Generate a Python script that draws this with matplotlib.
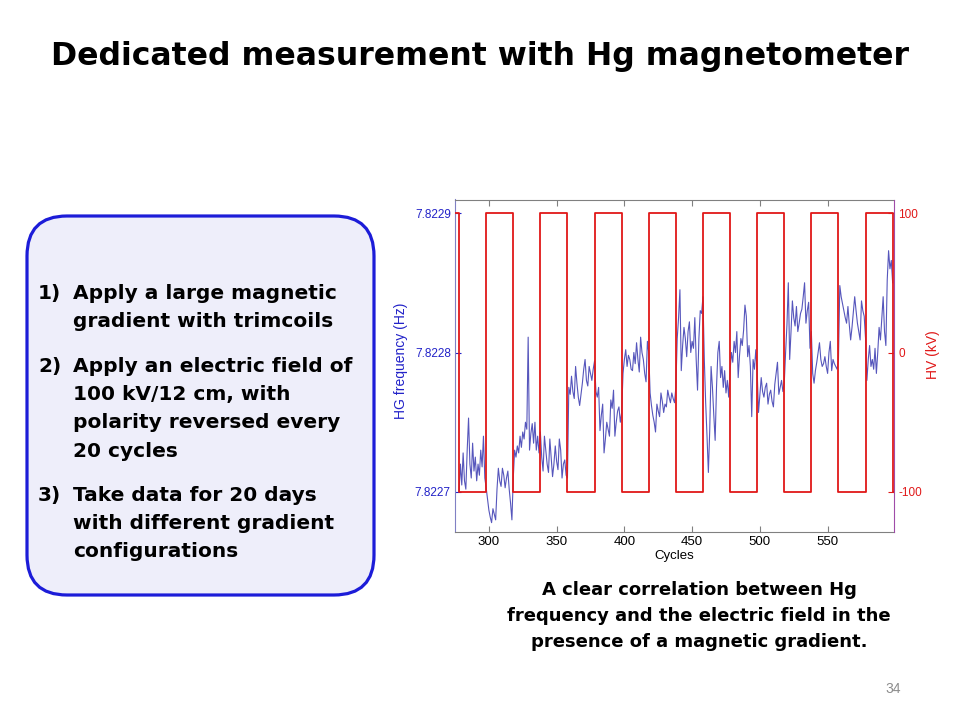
import numpy as np
import matplotlib.pyplot as plt
from matplotlib.patches import FancyBboxPatch

plt.rcParams["font.family"] = ["Liberation Sans", "DejaVu Sans"]
plt.rcParams["axes.unicode_minus"] = False

# Hg frequency, one reading per cycle, as offset from 7.8227 Hz in micro-Hz
hg_base_hz = 7.8227
first_cycle = 278
hg_offset_uhz = [
    0, 20, 5, 28, 8, 2, 30, 53, 20, 10, 35, 15, 25, 8, 20, 12, 30, 18, 40, 10, 3,
    -5, -13, -18, -22, -12, -16, -20, 2, 17, 8, 4, 17, 12, 3, 10, 15, 2, -8, -20, 10,
    30, 25, 33, 28, 40, 32, 43, 38, 50, 45, 111, 30, 42, 49, 35, 50, 30, 40, 28, 43,
    25, 15, 40, 30, 20, 14, 38, 25, 11, 20, 33, 22, 16, 38, 30, 10, 20, 23, 12, 10,
    75, 70, 83, 72, 67, 90, 78, 68, 62, 70, 78, 88, 95, 80, 76, 90, 85, 80, 88, 94,
    72, 68, 75, 44, 55, 63, 28, 38, 50, 45, 40, 66, 60, 73, 40, 50, 58, 61, 50, 57,
    85, 95, 102, 90, 98, 95, 88, 87, 100, 92, 107, 95, 86, 111, 100, 95, 85, 79, 108, 100,
    71, 62, 55, 50, 43, 63, 58, 54, 71, 65, 57, 63, 61, 73, 68, 64, 71, 67, 64, 75,
    110, 125, 145, 87, 105, 118, 110, 97, 115, 122, 100, 108, 103, 125, 95, 73, 110, 130, 128, 140,
    95, 64, 40, 14, 44, 90, 75, 55, 37, 75, 100, 108, 82, 90, 75, 87, 71, 80, 68, 87,
    100, 93, 108, 100, 115, 82, 98, 110, 105, 116, 134, 126, 97, 105, 90, 54, 95, 88, 102, 87,
    57, 70, 82, 72, 68, 75, 78, 63, 70, 73, 65, 61, 77, 85, 93, 70, 75, 80, 72, 78,
    100, 120, 150, 95, 115, 137, 125, 119, 133, 115, 121, 128, 131, 140, 150, 121, 130, 136, 103, 115,
    85, 78, 87, 93, 100, 107, 95, 90, 92, 97, 90, 85, 100, 108, 87, 95, 92, 90, 88, 95,
    148, 140, 135, 130, 125, 121, 133, 120, 109, 118, 129, 140, 130, 121, 115, 109, 137, 130, 126, 110,
    80, 95, 105, 90, 95, 88, 103, 85, 100, 118, 109, 125, 140, 115, 105, 152, 173, 160, 166, 150,
]

# HV polarity (switch cycle -> voltage until next switch)
hv_cycles = [275, 278, 298, 318, 338, 358, 378, 398, 418, 438,
             458, 478, 498, 518, 538, 558, 578, 598, 599]
hv_kv = [100, -100, 100, -100, 100, -100, 100, -100, 100, -100,
         100, -100, 100, -100, 100, -100, 100, -100, -100]

freq_ticks = [7.8227, 7.8228, 7.8229]
hv_ticks = [-100, 0, 100]
cycle_ticks = [300, 350, 400, 450, 500, 550]

title = "Dedicated measurement with Hg magnetometer"
steps = [
    ("1)", ["Apply a large magnetic", "gradient with trimcoils"]),
    ("2)", ["Apply an electric field of", "100 kV/12 cm, with",
            "polarity reversed every", "20 cycles"]),
    ("3)", ["Take data for 20 days", "with different gradient",
            "configurations"]),
]
caption = ["A clear correlation between Hg",
           "frequency and the electric field in the",
           "presence of a magnetic gradient."]

blue = "#2222c8"
red = "#e01818"
wide = ["DejaVu Sans"]

fig = plt.figure(figsize=(9.6, 7.2), dpi=100)

# slide layer in pixel coordinates
bg = fig.add_axes([0, 0, 1, 1])
bg.set_xlim(0, 960)
bg.set_ylim(720, 0)
bg.axis("off")

bg.text(480, 65, title, ha="center", va="baseline", fontsize=22.7,
        fontweight="bold", color="black", family=wide)

box = FancyBboxPatch((27, 216), 347, 379, boxstyle="round,pad=0,rounding_size=40",
                     facecolor="#eeeefa", edgecolor="#1c1cd8", linewidth=2.3)
bg.add_patch(box)

baselines = [[299, 327], [372, 400, 428, 457], [501, 529, 557]]
for (num, lines), ys in zip(steps, baselines):
    bg.text(38, ys[0], num, ha="left", va="baseline", fontsize=14.5,
            fontweight="bold", family=wide)
    for line, y in zip(lines, ys):
        bg.text(73, y, line, ha="left", va="baseline", fontsize=14.5,
                fontweight="bold", family=wide)

for line, y in zip(caption, [595, 621, 647]):
    bg.text(699, y, line, ha="center", va="baseline", fontsize=13,
            fontweight="bold", family=wide)

bg.text(893, 693, "34", ha="center", va="baseline", fontsize=10, color="#8c8c8c")

# chart
ax = fig.add_axes([455 / 960, 1 - 532 / 720, (894 - 455) / 960, (532 - 199.5) / 720])
ax2 = ax.twinx()

cycles = np.arange(first_cycle, first_cycle + len(hg_offset_uhz))
freq = hg_base_hz + np.array(hg_offset_uhz) * 1e-6
ax.plot(cycles, freq, color="#5656bc", lw=0.8)
ax2.step(hv_cycles, hv_kv, where="post", color=red, lw=1.3)

ax.set_xlim(275, 599)
ax.set_ylim(hg_base_hz - 28.7e-6, hg_base_hz + 209.7e-6)
ax2.set_ylim(-128.7, 109.7)

ax.set_xticks(cycle_ticks)
ax.set_yticks(freq_ticks)
ax.set_yticklabels([f"{t:.4f}" for t in freq_ticks])
ax2.set_yticks(hv_ticks)

ax.xaxis.set_ticks_position("both")
ax.tick_params(axis="x", direction="in", length=4, color="#808080",
               labelsize=9.5, pad=3, labelcolor="black")
ax.tick_params(axis="y", direction="in", length=4, color=blue,
               labelsize=8.5, pad=3, labelcolor=blue)
ax2.tick_params(axis="y", direction="in", length=4, color=red,
                labelsize=8.5, pad=3, labelcolor=red)

ax.set_xlabel("Cycles", fontsize=9.5, labelpad=1)
ax.set_ylabel("HG frequency (Hz)", fontsize=10, color=blue)
ax2.set_ylabel("HV (kV)", fontsize=10, color=red, rotation=90)
ax.yaxis.set_label_coords(-0.107, 0.514)
ax2.yaxis.set_label_coords(1.072, 0.532)

for s in ["top", "bottom"]:
    ax.spines[s].set_color("#808080")
    ax2.spines[s].set_visible(False)
ax.spines["left"].set_color("#8080c4")
ax.spines["right"].set_visible(False)
ax2.spines["left"].set_visible(False)
ax2.spines["right"].set_color("#a04ca8")
for s in ax.spines.values():
    s.set_linewidth(0.8)
ax2.spines["right"].set_linewidth(0.8)

fig.savefig("out.png", dpi=100)
